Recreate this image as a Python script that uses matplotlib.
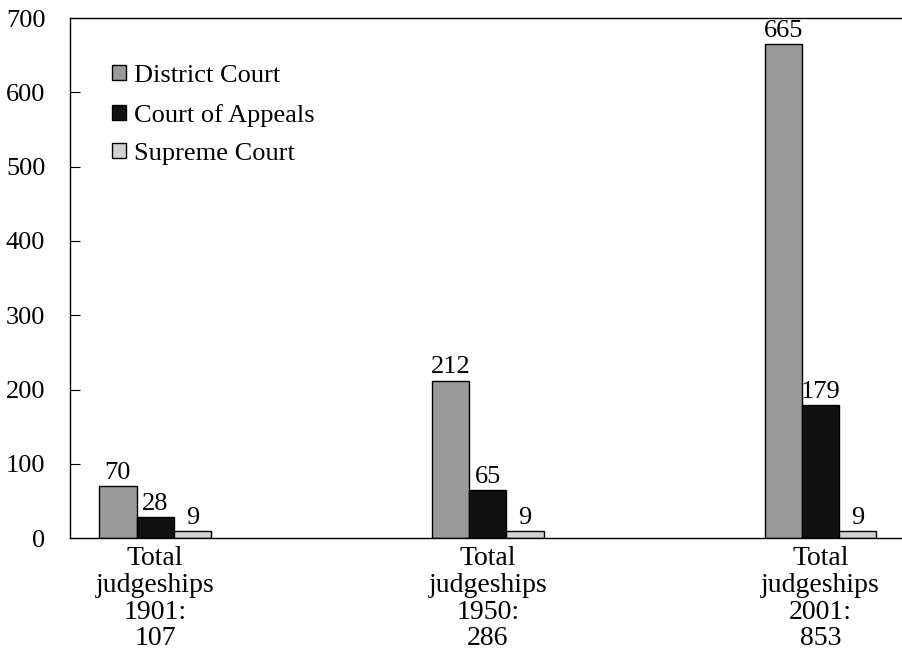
import numpy as np
import matplotlib.pyplot as plt

# ----------------------------------------------------------------------------
# Data
# ----------------------------------------------------------------------------
years = ["1901", "1950", "2001"]
totals = [107, 286, 853]
district = [70, 212, 665]
appeals = [28, 65, 179]
supreme = [9, 9, 9]

series = [
    ("District Court", district, "#9a9a9a"),
    ("Court of Appeals", appeals, "#111111"),
    ("Supreme Court", supreme, "#d2d2d2"),
]

plt.rcParams.update({
    "font.family": ["Liberation Serif", "DejaVu Serif"],
    "font.size": 19,
})

fig = plt.figure(figsize=(9.02, 6.71), dpi=100)
ax = fig.add_axes([0.078, 0.198, 0.922, 0.775])

x = np.arange(len(years))
width = 0.112

for i, (name, vals, color) in enumerate(series):
    pos = x + (i - 1) * width
    bars = ax.bar(pos, vals, width, color=color, edgecolor="black",
                  linewidth=1.0, label=name)
    for b, v in zip(bars, vals):
        ax.text(b.get_x() + b.get_width() / 2, v + 3, str(v),
                ha="center", va="bottom", fontsize=19)

ax.set_ylim(0, 700)
ax.set_xlim(-0.255, 2.245)
ax.set_yticks(range(0, 701, 100))
ax.tick_params(axis="y", direction="in", length=7, pad=18, labelsize=19)

ax.set_xticks(x)
ax.set_xticklabels([f"Total\njudgeships\n{y}:\n{t}" for y, t in zip(years, totals)],
                   fontsize=20, linespacing=1.08)
ax.tick_params(axis="x", length=0, pad=6)

ax.spines["right"].set_visible(False)
for s in ("left", "top", "bottom"):
    ax.spines[s].set_linewidth(1.0)

ax.legend(loc="upper left", bbox_to_anchor=(0.022, 0.955), frameon=False,
          handlelength=0.5, handleheight=0.5, handletextpad=0.3,
          labelspacing=0.62, fontsize=19)

fig.savefig("out.png", dpi=100)
